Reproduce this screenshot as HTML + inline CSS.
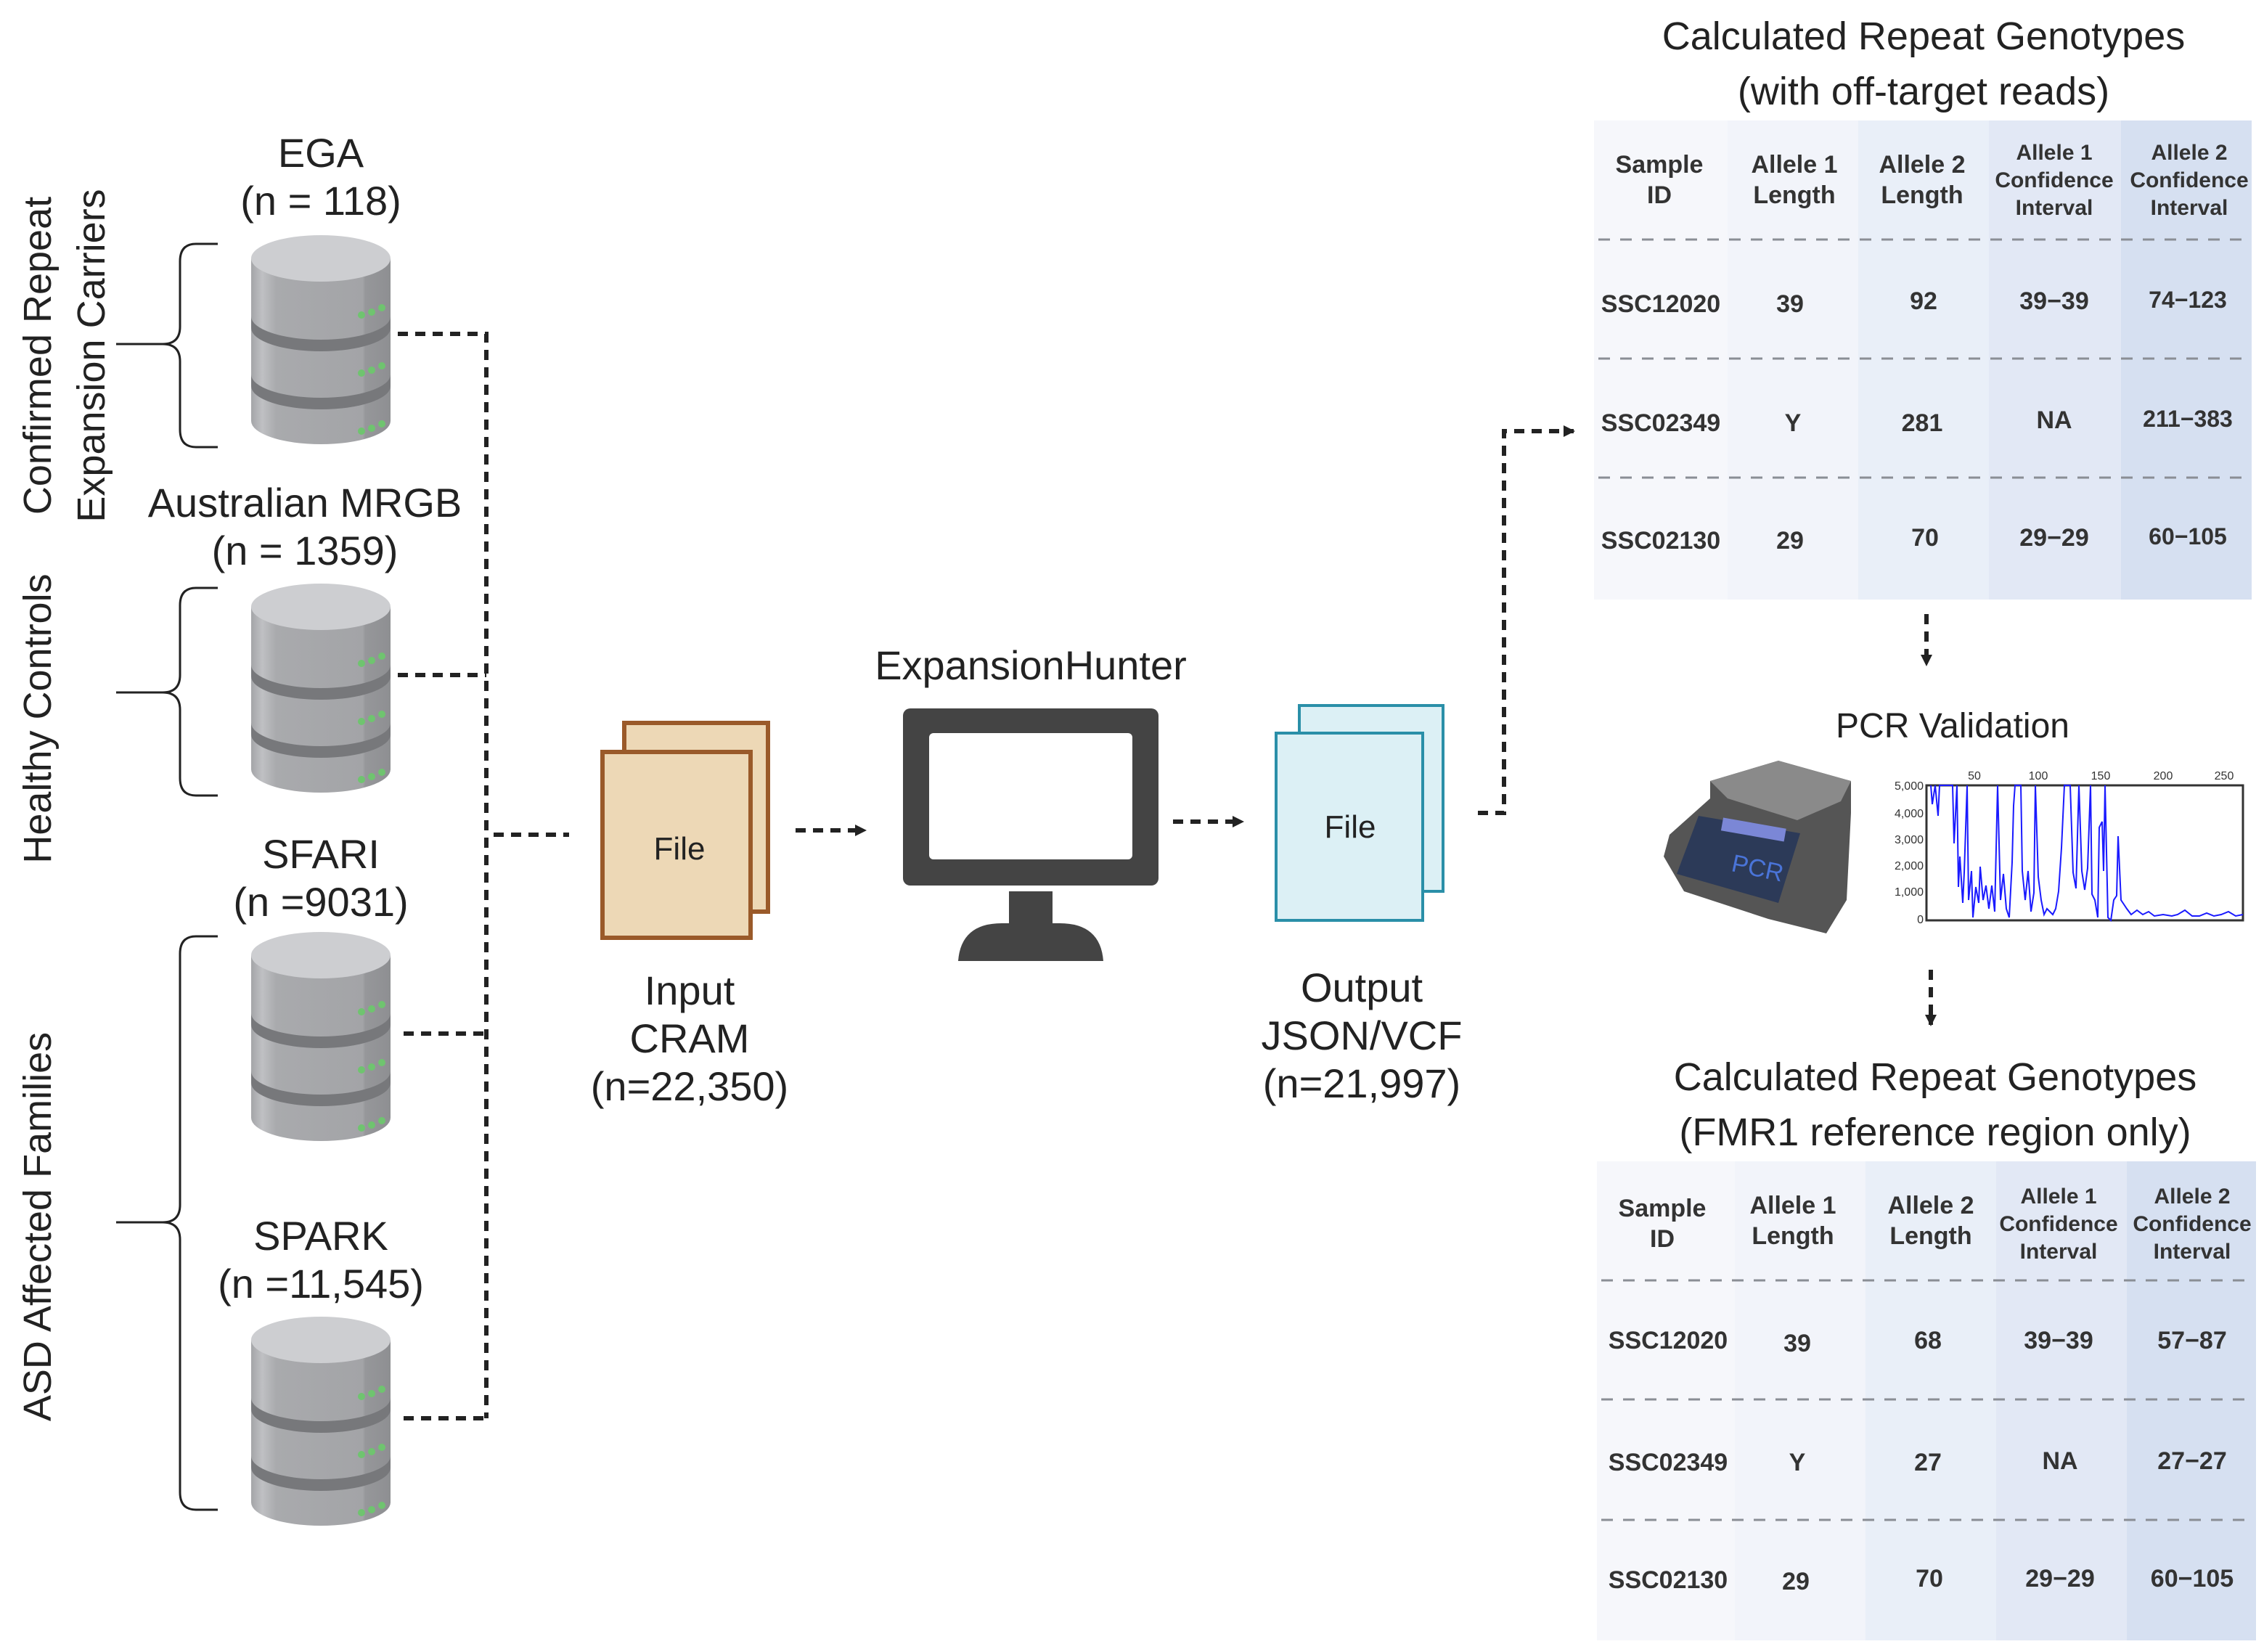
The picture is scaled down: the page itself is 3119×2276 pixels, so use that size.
<!DOCTYPE html>
<html><head><meta charset="utf-8"><style>
html,body{margin:0;padding:0;background:#fff;}
svg{display:block;}
.t{font-family:"Liberation Sans",sans-serif;fill:#222;text-anchor:middle;}
.n{font-family:"Liberation Sans Narrow","Liberation Sans",sans-serif;fill:#333;text-anchor:middle;font-weight:bold;}
</style></head><body>
<svg width="3119" height="2276" viewBox="0 0 1559.5 1138" xmlns="http://www.w3.org/2000/svg">
<defs>
<linearGradient id="cyl" x1="0" x2="1" y1="0" y2="0">
<stop offset="0" stop-color="#a4a5a8"/><stop offset="0.08" stop-color="#bfc0c3"/><stop offset="0.18" stop-color="#a9aaad"/><stop offset="0.8" stop-color="#a3a4a7"/><stop offset="0.82" stop-color="#96979a"/><stop offset="1" stop-color="#8e8f92"/>
</linearGradient>
<g id="db">
<path d="M0,18 L0,130 A48,16 0 0 0 96,130 L96,18 Z" fill="url(#cyl)"/>
<path d="M0,58 A48,16 0 0 0 96,58 L96,66 A48,16 0 0 1 0,66 Z" fill="#77787b"/>
<path d="M0,98 A48,16 0 0 0 96,98 L96,106 A48,16 0 0 1 0,106 Z" fill="#77787b"/>
<ellipse cx="48" cy="18" rx="48" ry="16" fill="#cdced1"/>
<g fill="#6fc46f"><circle cx="76" cy="57" r="2.5"/><circle cx="83" cy="55" r="2.5"/><circle cx="90" cy="52" r="2.5"/>
<circle cx="76" cy="97" r="2.5"/><circle cx="83" cy="95" r="2.5"/><circle cx="90" cy="92" r="2.5"/>
<circle cx="76" cy="137" r="2.5"/><circle cx="83" cy="135" r="2.5"/><circle cx="90" cy="132" r="2.5"/></g>
</g>
<marker id="ah" markerWidth="8" markerHeight="8" refX="7" refY="4" orient="auto" markerUnits="userSpaceOnUse"><path d="M0,0 L8,4 L0,8 Z" fill="#222"/></marker>
</defs>

<!-- databases -->
<use href="#db" x="173" y="160"/>
<use href="#db" x="173" y="400"/>
<use href="#db" x="173" y="640"/>
<use href="#db" x="173" y="905"/>

<!-- braces -->
<g fill="none" stroke="#222" stroke-width="1.5">
<path d="M150,168 L135,168 Q124,168 124,180 L124,225 Q124,237 112,237 L80,237 M112,237 Q124,237 124,249 L124,296 Q124,308 135,308 L150,308"/>
<path d="M150,405 L135,405 Q124,405 124,417 L124,465 Q124,477 112,477 L80,477 M112,477 Q124,477 124,489 L124,536 Q124,548 135,548 L150,548"/>
<path d="M150,645 L135,645 Q124,645 124,657 L124,830 Q124,842 112,842 L80,842 M112,842 Q124,842 124,854 L124,1028 Q124,1040 135,1040 L150,1040"/>
</g>

<!-- rotated labels -->
<g class="t" font-size="27">
<text transform="translate(35,245) rotate(-90)">Confirmed Repeat</text>
<text transform="translate(72,245) rotate(-90)">Expansion Carriers</text>
<text transform="translate(35,495) rotate(-90)">Healthy Controls</text>
<text transform="translate(35,845) rotate(-90)">ASD Affected Families</text>
</g>

<!-- db labels -->
<g class="t" font-size="28">
<text x="221" y="115">EGA</text><text x="221" y="148">(n = 118)</text>
<text x="210" y="356">Australian MRGB</text><text x="210" y="389">(n = 1359)</text>
<text x="221" y="598">SFARI</text><text x="221" y="631">(n =9031)</text>
<text x="221" y="861">SPARK</text><text x="221" y="894">(n =11,545)</text>
<text x="710" y="468">ExpansionHunter</text>
<text x="475" y="692">Input</text><text x="475" y="725">CRAM</text><text x="475" y="758">(n=22,350)</text>
<text x="938" y="690">Output</text><text x="938" y="723">JSON/VCF</text><text x="938" y="756">(n=21,997)</text>
</g>

<!-- dashed connectors -->
<g fill="none" stroke="#222" stroke-width="3" stroke-dasharray="7,5">
<path d="M274,230 L335,230 L335,977"/>
<path d="M274,465 L335,465"/>
<path d="M278,712 L335,712"/>
<path d="M278,977 L335,977"/>
<path d="M340,575 L392,575"/>
<path d="M548,572 L596,572" marker-end="url(#ah)"/>
<path d="M808,566 L856,566" marker-end="url(#ah)"/>
<path d="M1018,560 L1036,560 L1036,297 L1084,297" marker-end="url(#ah)"/>
<path d="M1327,423 L1327,458" marker-end="url(#ah)"/>
<path d="M1330,668 L1330,706" marker-end="url(#ah)"/>
</g>

<!-- input file -->
<rect x="430" y="498" width="99" height="130" fill="#edd8b6" stroke="#9a5a2a" stroke-width="3"/>
<rect x="415" y="518" width="102" height="128" fill="#edd8b6" stroke="#9a5a2a" stroke-width="3"/>
<text class="t" x="468" y="592" font-size="22">File</text>

<!-- monitor -->
<rect x="622" y="488" width="176" height="122" rx="5" fill="#444"/>
<rect x="640" y="505" width="140" height="87" rx="3" fill="#fff"/>
<rect x="695" y="614" width="30" height="22" fill="#444"/>
<path d="M660,662 Q662,636 690,636 L730,636 Q758,636 760,662 Z" fill="#444"/>

<!-- output file -->
<rect x="895" y="486" width="99" height="128" fill="#dcf0f5" stroke="#2a8fa8" stroke-width="2"/>
<rect x="879" y="505" width="101" height="129" fill="#dcf0f5" stroke="#2a8fa8" stroke-width="2"/>
<text class="t" x="930" y="577" font-size="22">File</text>

<!-- Titles -->
<g class="t" font-size="27">
<text x="1325" y="34">Calculated Repeat Genotypes</text>
<text x="1325" y="72">(with off-target reads)</text>
<text x="1333" y="751">Calculated Repeat Genotypes</text>
<text x="1333" y="789">(FMR1 reference region only)</text>
<text x="1345" y="508" font-size="24">PCR Validation</text>
</g>

<!-- table 1 -->
<rect x="1098" y="83" width="92" height="330" fill="#f6f7fb"/>
<rect x="1190" y="83" width="90" height="330" fill="#f2f4fa"/>
<rect x="1280" y="83" width="90" height="330" fill="#e9eff8"/>
<rect x="1370" y="83" width="91" height="330" fill="#e2e8f5"/>
<rect x="1461" y="83" width="90" height="330" fill="#d6e0f1"/>
<g stroke="#8a8e95" stroke-width="1.5" stroke-dasharray="8,7">
<line x1="1101" y1="165" x2="1550" y2="165"/><line x1="1101" y1="247" x2="1550" y2="247"/><line x1="1101" y1="329" x2="1550" y2="329"/>
</g>
<g class="n" font-size="17">
<text x="1143" y="119">Sample</text><text x="1143" y="140">ID</text>
<text x="1236" y="119">Allele 1</text><text x="1236" y="140">Length</text>
<text x="1324" y="119">Allele 2</text><text x="1324" y="140">Length</text>
<text x="1415" y="110" font-size="15">Allele 1</text><text x="1415" y="129" font-size="15">Confidence</text><text x="1415" y="148" font-size="15">Interval</text>
<text x="1508" y="110" font-size="15">Allele 2</text><text x="1508" y="129" font-size="15">Confidence</text><text x="1508" y="148" font-size="15">Interval</text>
<text x="1144" y="215">SSC12020</text><text x="1233" y="215">39</text><text x="1325" y="213">92</text><text x="1415" y="213">39−39</text><text x="1507" y="212" font-size="16">74−123</text>
<text x="1144" y="297">SSC02349</text><text x="1235" y="297">Y</text><text x="1324" y="297">281</text><text x="1415" y="295">NA</text><text x="1507" y="294" font-size="16">211−383</text>
<text x="1144" y="378">SSC02130</text><text x="1233" y="378">29</text><text x="1326" y="376">70</text><text x="1415" y="376">29−29</text><text x="1507" y="375" font-size="16">60−105</text>
</g>

<!-- table 2 -->
<rect x="1100" y="800" width="95" height="330" fill="#f6f7fb"/>
<rect x="1195" y="800" width="90" height="330" fill="#f2f4fa"/>
<rect x="1285" y="800" width="90" height="330" fill="#e9eff8"/>
<rect x="1375" y="800" width="90" height="330" fill="#e2e8f5"/>
<rect x="1465" y="800" width="89" height="330" fill="#d6e0f1"/>
<g stroke="#8a8e95" stroke-width="1.5" stroke-dasharray="8,7">
<line x1="1103" y1="882" x2="1553" y2="882"/><line x1="1103" y1="964" x2="1553" y2="964"/><line x1="1103" y1="1047" x2="1553" y2="1047"/>
</g>
<g class="n" font-size="17">
<text x="1145" y="838">Sample</text><text x="1145" y="859">ID</text>
<text x="1235" y="836">Allele 1</text><text x="1235" y="857">Length</text>
<text x="1330" y="836">Allele 2</text><text x="1330" y="857">Length</text>
<text x="1418" y="829" font-size="15">Allele 1</text><text x="1418" y="848" font-size="15">Confidence</text><text x="1418" y="867" font-size="15">Interval</text>
<text x="1510" y="829" font-size="15">Allele 2</text><text x="1510" y="848" font-size="15">Confidence</text><text x="1510" y="867" font-size="15">Interval</text>
<text x="1149" y="929">SSC12020</text><text x="1238" y="931">39</text><text x="1328" y="929">68</text><text x="1418" y="929">39−39</text><text x="1510" y="929">57−87</text>
<text x="1149" y="1013">SSC02349</text><text x="1238" y="1013">Y</text><text x="1328" y="1013">27</text><text x="1419" y="1012">NA</text><text x="1510" y="1012">27−27</text>
<text x="1149" y="1094">SSC02130</text><text x="1237" y="1095">29</text><text x="1329" y="1093">70</text><text x="1419" y="1093">29−29</text><text x="1510" y="1093">60−105</text>
</g>

<!-- PCR machine -->
<path d="M1150,575 L1178,550 L1178,538 L1225,524 L1275,538 L1275,560 L1272,620 L1258,643 L1218,633 L1160,614 L1146,590 Z" fill="#555"/>
<path d="M1178,538 L1225,524 L1275,538 L1268,552 L1238,565 L1190,550 Z" fill="#8a8a8a"/>
<path d="M1170,562 L1240,574 L1225,622 L1155,602 Z" fill="#2c3a58"/>
<rect x="1186" y="567" width="44" height="9" fill="#7b87d6" transform="rotate(10 1208 571)"/>
<text x="1193" y="600" font-family="Liberation Sans,sans-serif" font-size="17" fill="#4a74d8" transform="rotate(12 1193 595)">PCR</text>

<!-- chart -->
<rect x="1327" y="541" width="218" height="93" fill="#fff" stroke="#333" stroke-width="1.5"/>
<g font-family="Liberation Sans,sans-serif" font-size="8" fill="#333" text-anchor="end">
<text x="1325" y="544">5,000</text><text x="1325" y="563">4,000</text><text x="1325" y="581">3,000</text><text x="1325" y="599">2,000</text><text x="1325" y="617">1,000</text><text x="1325" y="636">0</text>
</g>
<g font-family="Liberation Sans,sans-serif" font-size="8" fill="#333" text-anchor="middle">
<text x="1360" y="537">50</text><text x="1404" y="537">100</text><text x="1447" y="537">150</text><text x="1490" y="537">200</text><text x="1532" y="537">250</text>
</g>
<polyline fill="none" stroke="#1a1aff" stroke-width="1" points="1330,541 1331,554 1333,541 1335,562 1336,541 1345,541 1346,581 1348,541 1349,611 1350,590 1352,622 1353,601 1355,541 1356,620 1358,600 1359,632 1361,611 1363,622 1364,597 1366,620 1368,610 1370,626 1372,610 1374,628 1376,541 1378,620 1380,602 1382,626 1384,632 1386,594 1387,555 1388,541 1392,541 1393,600 1395,620 1397,600 1399,628 1401,615 1402,541 1404,604 1406,620 1408,630 1410,626 1412,628 1414,630 1416,626 1418,614 1420,584 1422,541 1426,541 1428,601 1430,612 1432,541 1434,600 1436,613 1438,598 1440,541 1441,616 1443,620 1445,632 1446,570 1448,566 1449,600 1450,541 1452,632 1454,634 1456,620 1458,617 1459,576 1461,620 1463,623 1465,626 1468,630 1472,627 1476,630 1480,628 1484,631 1490,630 1496,631 1500,630 1505,627 1510,631 1515,631 1520,629 1525,631 1530,630 1535,628 1540,631 1545,630"/>
</svg>
</body></html>
